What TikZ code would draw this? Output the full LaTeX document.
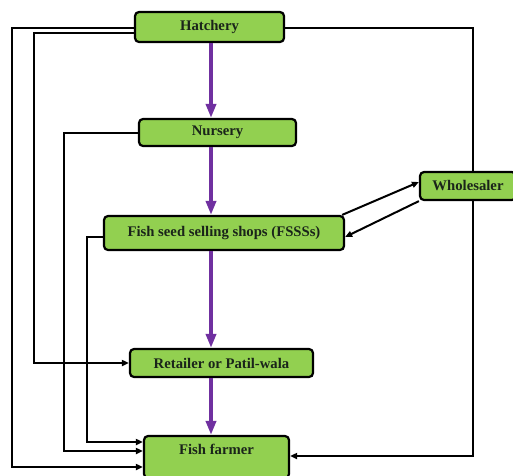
\documentclass[tikz,border=0pt]{standalone}
\usepackage{fontspec}
\setmainfont{Liberation Serif}
\usetikzlibrary{arrows.meta,positioning,backgrounds}
\definecolor{leafgreen}{HTML}{92D050}
\definecolor{seedpurple}{HTML}{7030A0}
\definecolor{inkdark}{HTML}{1A241A}
\tikzset{
  fbox/.style={draw=black, fill=leafgreen, rounded corners=4pt, line width=2.2pt, text=inkdark, font=\fontsize{14.7}{17}\selectfont\bfseries, inner sep=2pt},
  parrow/.style={-{Triangle[length=14pt, width=10pt]}, line width=4pt, seedpurple},
  farrow/.style={-{Triangle[length=7pt, width=6pt]}, line width=2pt, black},
}

\begin{document}
\begin{tikzpicture}[x=1pt, y=-1pt]
  \useasboundingbox (0,0) rectangle (513,475);
  \node[fbox, minimum width=149pt, minimum height=30pt] (hatch) at (209.5,27) {Hatchery};
  \node[fbox, minimum width=157pt, minimum height=27pt] (nurs) at (217.5,132.5) {Nursery};
  \node[fbox, minimum width=240pt, minimum height=34pt] (fsss) at (224,233) {Fish seed selling shops (FSSSs)};
  \node[fbox, minimum width=96pt, minimum height=28pt] (whole) at (468,186) {Wholesaler};
  \node[fbox, minimum width=183pt, minimum height=28pt] (retail) at (221.5,363) {Retailer or Patil-wala};
  \node[fbox, minimum width=145pt, minimum height=42pt, text depth=15pt] (farmer) at (216.5,457) {Fish farmer};
  % main chain
  \coordinate (spine) at (211,0);
  \draw[parrow] (spine |- hatch.south) -- (spine |- nurs.north);
  \draw[parrow] (spine |- nurs.south) -- (spine |- fsss.north);
  \draw[parrow] (spine |- fsss.south) -- (spine |- retail.north);
  \draw[parrow] (spine |- retail.south) -- (spine |- farmer.north);
  % side routes
  \draw[farrow] ([yshift=-1pt]hatch.west) -- ++(-122,0) |- ([yshift=-10pt]farmer.west);
  \draw[farrow] ([yshift=-6pt]hatch.west) -- ++(-100,0) |- (retail.west);
  \draw[farrow] (nurs.west) -- ++(-74,0) |- ([yshift=6pt]farmer.west);
  \draw[farrow] ([yshift=-4pt]fsss.west) -- ++(-16,0) |- ([yshift=15pt]farmer.west);
  \begin{scope}[on background layer]
    \fill[white] (0,0) rectangle (513,475);
    \draw[farrow] ([yshift=-1pt]hatch.east) -- ++(188,0) |- ([yshift=1pt]farmer.east);
  \end{scope}
  \draw[farrow] ([xshift=-3pt]fsss.north east) -- ([yshift=4pt]whole.west);
  \draw[farrow] (whole.south west) -- ([yshift=-4pt]fsss.east);
\end{tikzpicture}
\end{document}
